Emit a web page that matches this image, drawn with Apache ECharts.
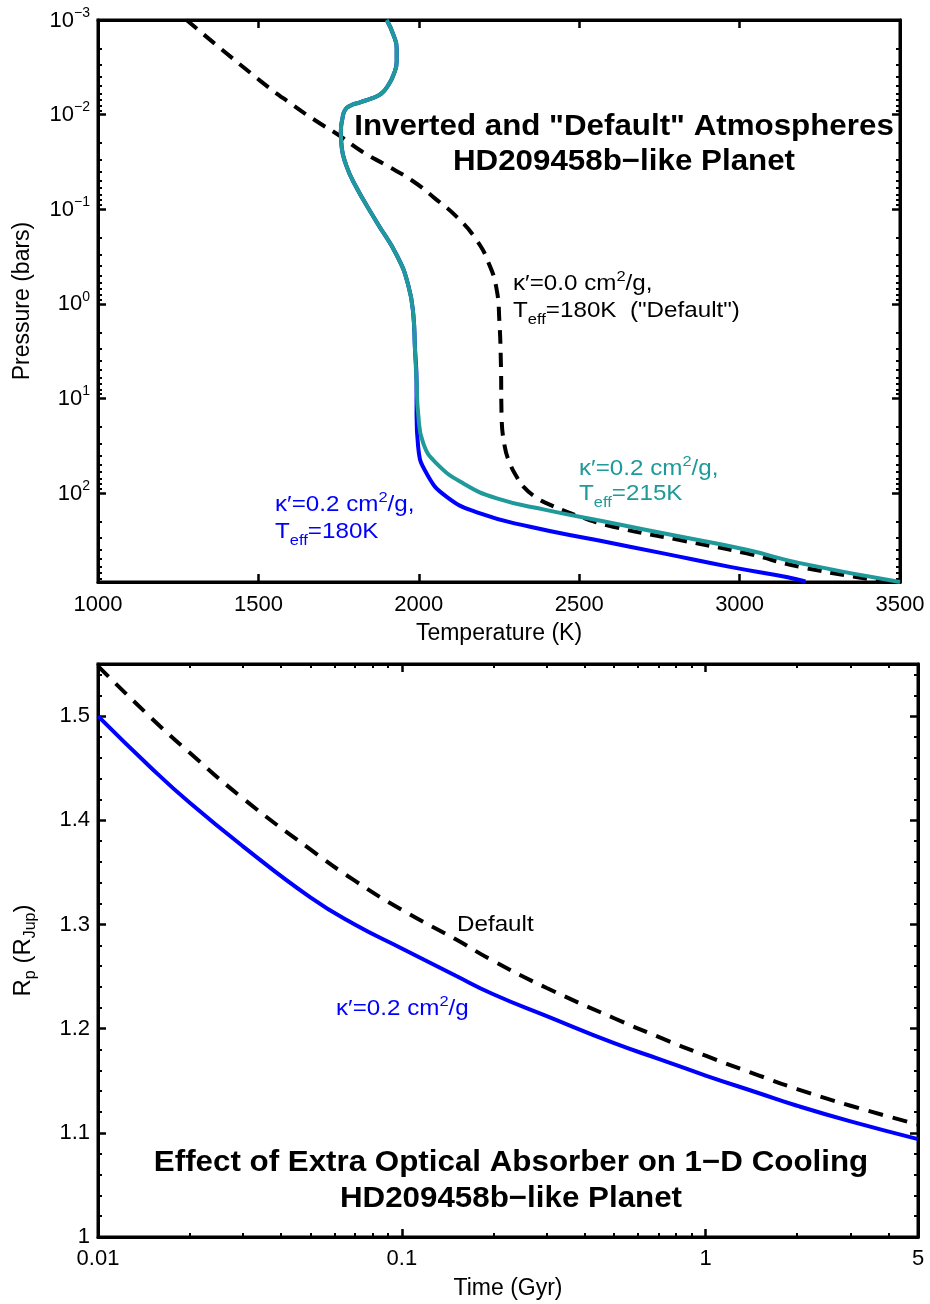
<!DOCTYPE html>
<html><head><meta charset="utf-8">
<script src="https://cdn.jsdelivr.net/npm/echarts@6/dist/echarts.min.js"></script>
<style>html,body{margin:0;padding:0;background:#fff}#c{width:930px;height:1304px}</style>
</head><body><div id="c"></div>
<script>
// ---------- Top panel data: Temperature (K) vs Pressure (bars) ----------
const tealTemp = [1900,1921,1931,1931,1921,1905,1884,1853,1817,1786,1770,1762,1757,1760,1770,1796,1868,1931,1967,1983,1988,1993,1998,2014,2055,2139,2243,2399,2606,2814,3022,3188,3500];
const tealPres = [0.001,0.00144,0.00199,0.00276,0.00381,0.00486,0.00596,0.00673,0.00741,0.00805,0.00893,0.01094,0.01514,0.0227,0.0315,0.0512,0.1355,0.3048,0.632,1.312,2.95,6.61,14.39,29.85,48.5,79.1,113.8,151.4,208.9,288.4,398,550,871];
const blueTemp = [1900,1921,1931,1931,1921,1905,1884,1853,1817,1786,1770,1762,1757,1760,1770,1796,1868,1931,1967,1983,1988,1993,1993,1998,2024,2087,2191,2347,2554,2762,2970,3150,3205];
const bluePres = [0.001,0.00144,0.00199,0.00276,0.00381,0.00486,0.00596,0.00673,0.00741,0.00805,0.00893,0.01094,0.01514,0.0227,0.0315,0.0512,0.1355,0.3048,0.632,1.312,2.95,6.61,14.96,32.4,61.7,109.6,164.1,227,314,434,603,776,861];
const dashTemp = [1276,1505,1609,1679,1750,1824,1897,1980,2050,2120,2180,2217,2243,2251,2256,2258,2268,2284,2305,2326,2362,2399,2503,2606,2814,3022,3188,3462];
const dashPres = [0.001,0.00437,0.0080,0.01161,0.01644,0.02466,0.03412,0.05,0.0767,0.1219,0.2118,0.3648,0.7145,1.483,4.436,14.96,32.36,48.53,67.3,85.7,109.4,128.5,177.8,227,314,434,603,871];
const tempTicks = [1000,1500,2000,2500,3000,3500];
const presTicks = [0.001,0.01,0.1,1,10,100];
const presMax = 871;

// ---------- Bottom panel data: Time (Gyr) vs Rp (RJup) ----------
const timeVals = [0.01,0.015,0.02,0.03,0.05,0.07,0.1,0.15,0.2,0.3,0.5,0.7,1,1.5,2,3,5];
const blueRad  = [1.500,1.450,1.417,1.375,1.326,1.300,1.277,1.251,1.233,1.212,1.186,1.171,1.155,1.138,1.126,1.111,1.094];
const dashRad  = [1.548,1.498,1.465,1.421,1.372,1.342,1.314,1.286,1.265,1.239,1.210,1.192,1.174,1.155,1.142,1.126,1.108];
const timeTicks = [0.01,0.1,1];
const timeLabels = [0.01,0.1,1,5];
const radTicks = [1,1.1,1.2,1.3,1.4,1.5];

// minor tick positions
const presMinor = [];
for (let d = -3; d <= 2; d++) for (let m = 2; m <= 9; m++) { const v = m * Math.pow(10, d); if (v <= presMax) presMinor.push(+v.toPrecision(3)); }
const timeMinor = [];
for (let d = -2; d <= 0; d++) for (let m = 2; m <= 9; m++) { const v = m * Math.pow(10, d); if (v < 5) timeMinor.push(+v.toPrecision(3)); }
const radMinor = [];
for (let i = 1; i < 28; i++) { if (i % 5 !== 0) radMinor.push(+(1 + i * 0.02).toFixed(2)); }

const F = '"Liberation Sans", Arial, Helvetica, sans-serif';
const zip = (a, b) => a.map((v, i) => [v, b[i]]);
const BLUE = '#0000FF', TEAL = '#1F9999';

const lineAx = { show: true, lineStyle: { color: '#000', width: 3 } };
const noLine = { show: false };
const majTick = (cv) => ({ show: true, inside: true, length: 8, lineStyle: { color: '#000', width: 2.5 }, ...(cv ? { customValues: cv } : {}) });
const minTick = (cv) => ({ show: true, inside: true, length: 4, lineStyle: { color: '#000', width: 2 }, customValues: cv });
const noLab = { show: false };
const noSplit = { show: false };

const supExp = (v) => { const e = Math.round(Math.log10(v)); return '{b|10}{s|' + (e < 0 ? '\u2212' + (-e) : String(e)) + '}'; };

const option = {
  animation: false,
  backgroundColor: '#fff',
  textStyle: { fontFamily: F, color: '#000' },
  grid: [
    { left: 98, top: 20, width: 802, height: 562, show: true, borderColor: '#000', borderWidth: 3, backgroundColor: 'transparent' },
    { left: 98, top: 664, width: 820, height: 573, show: true, borderColor: '#000', borderWidth: 3, backgroundColor: 'transparent' }
  ],
  xAxis: [
    { gridIndex: 0, type: 'value', position: 'bottom', min: 1000, max: 3500, interval: 500,
      axisLine: lineAx, axisTick: majTick(tempTicks), splitLine: noSplit,
      axisLabel: { customValues: tempTicks, fontSize: 22, color: '#000', fontFamily: F, margin: 12, formatter: (v) => String(v) },
      name: 'Temperature (K)', nameLocation: 'middle', nameGap: 40,
      nameTextStyle: { fontSize: 23, color: '#000', fontFamily: F } },
    { gridIndex: 0, type: 'value', position: 'top', min: 1000, max: 3500, interval: 500,
      axisLine: lineAx, axisTick: majTick(tempTicks), axisLabel: noLab, splitLine: noSplit },
    { gridIndex: 1, type: 'log', logBase: 10, position: 'bottom', min: 0.01, max: 5,
      axisLine: lineAx, axisTick: majTick(timeTicks), splitLine: noSplit, minorTick: { show: false },
      axisLabel: { customValues: timeLabels, fontSize: 22, color: '#000', fontFamily: F, margin: 11,
        formatter: (v) => String(+(+v).toPrecision(3)) },
      name: 'Time (Gyr)', nameLocation: 'middle', nameGap: 40,
      nameTextStyle: { fontSize: 23, color: '#000', fontFamily: F } },
    { gridIndex: 1, type: 'log', logBase: 10, position: 'bottom', min: 0.01, max: 5,
      axisLine: noLine, axisTick: minTick(timeMinor), axisLabel: noLab, splitLine: noSplit },
    { gridIndex: 1, type: 'log', logBase: 10, position: 'top', min: 0.01, max: 5,
      axisLine: lineAx, axisTick: majTick(timeTicks), axisLabel: noLab, splitLine: noSplit },
    { gridIndex: 1, type: 'log', logBase: 10, position: 'top', min: 0.01, max: 5,
      axisLine: noLine, axisTick: minTick(timeMinor), axisLabel: noLab, splitLine: noSplit }
  ],
  yAxis: [
    { gridIndex: 0, type: 'log', logBase: 10, inverse: true, position: 'left', min: 0.001, max: presMax,
      axisLine: lineAx, axisTick: majTick(presTicks), splitLine: noSplit, minorTick: { show: false },
      axisLabel: { customValues: presTicks, margin: 8, formatter: supExp, padding: [0, 0, 6, 0],
        rich: { b: { fontSize: 22, lineHeight: 22, padding: [7, 0, 0, 0], fontFamily: F, color: '#000' },
                s: { fontSize: 14, lineHeight: 14, verticalAlign: 'top', fontFamily: F, color: '#000' } } },
      name: 'Pressure (bars)', nameLocation: 'middle', nameGap: 64, nameRotate: 90,
      nameTextStyle: { fontSize: 23, color: '#000', fontFamily: F } },
    { gridIndex: 0, type: 'log', logBase: 10, inverse: true, position: 'left', min: 0.001, max: presMax,
      axisLine: noLine, axisTick: minTick(presMinor), axisLabel: noLab, splitLine: noSplit },
    { gridIndex: 0, type: 'log', logBase: 10, inverse: true, position: 'right', min: 0.001, max: presMax,
      axisLine: lineAx, axisTick: majTick(presTicks), axisLabel: noLab, splitLine: noSplit },
    { gridIndex: 0, type: 'log', logBase: 10, inverse: true, position: 'right', min: 0.001, max: presMax,
      axisLine: noLine, axisTick: minTick(presMinor), axisLabel: noLab, splitLine: noSplit },
    { gridIndex: 1, type: 'value', position: 'left', min: 1, max: 1.55,
      axisLine: lineAx, axisTick: majTick(radTicks), splitLine: noSplit,
      axisLabel: { customValues: radTicks, fontSize: 22, color: '#000', fontFamily: F, margin: 8,
        formatter: (v) => String(+(+v).toFixed(2)) },
      name: '{m|R}{sb|p}{m| (R}{sb|Jup}{m|)}', nameLocation: 'middle', nameGap: 62, nameRotate: 90,
      nameTextStyle: { color: '#000', fontFamily: F,
        rich: { m: { fontSize: 24, lineHeight: 25, verticalAlign: 'top', fontFamily: F, color: '#000' },
                sb: { fontSize: 16, lineHeight: 16, padding: [14, 0, 0, 0], fontFamily: F, color: '#000' } } } },
    { gridIndex: 1, type: 'value', position: 'left', min: 1, max: 1.55,
      axisLine: noLine, axisTick: minTick(radMinor), axisLabel: noLab, splitLine: noSplit },
    { gridIndex: 1, type: 'value', position: 'right', min: 1, max: 1.55,
      axisLine: lineAx, axisTick: majTick(radTicks), axisLabel: noLab, splitLine: noSplit },
    { gridIndex: 1, type: 'value', position: 'right', min: 1, max: 1.55,
      axisLine: noLine, axisTick: minTick(radMinor), axisLabel: noLab, splitLine: noSplit }
  ],
  series: [
    { type: 'line', xAxisIndex: 0, yAxisIndex: 0, data: zip(dashTemp, dashPres), symbol: 'none', smooth: 0.5,
      lineStyle: { color: '#000', width: 4, type: [14, 9] }, z: 2 },
    { type: 'line', xAxisIndex: 0, yAxisIndex: 0, data: zip(blueTemp, bluePres), symbol: 'none', smooth: 0.5,
      lineStyle: { color: BLUE, width: 4 }, z: 3 },
    { type: 'line', xAxisIndex: 0, yAxisIndex: 0, data: zip(tealTemp, tealPres), symbol: 'none', smooth: 0.5,
      lineStyle: { color: TEAL, width: 4 }, z: 4 },
    { type: 'line', xAxisIndex: 2, yAxisIndex: 4, data: zip(timeVals, dashRad), symbol: 'none', smooth: 0.5,
      lineStyle: { color: '#000', width: 4, type: [15, 10] }, z: 2 },
    { type: 'line', xAxisIndex: 2, yAxisIndex: 4, data: zip(timeVals, blueRad), symbol: 'none', smooth: 0.5,
      lineStyle: { color: BLUE, width: 4 }, z: 3 }
  ]
};

// ---------- text annotations ----------
const SX = 1.1;
const richSup = (c) => ({ m: { fontSize: 22, lineHeight: 23, padding: [7, 0, 0, 0], fontFamily: F, fill: c },
                          s: { fontSize: 15, lineHeight: 15, verticalAlign: 'top', fontFamily: F, fill: c } });
const richSub = (c) => ({ m: { fontSize: 22, lineHeight: 23, verticalAlign: 'top', fontFamily: F, fill: c },
                          s: { fontSize: 15, lineHeight: 15, padding: [16, 0, 0, 0], fontFamily: F, fill: c } });
const txt = (x, y, text, rich, c) => ({ type: 'text', x, y, scaleX: SX, z: 10,
  style: { text, rich, fill: c, align: 'left', verticalAlign: 'top', fontFamily: F } });
const title = (x, y, text) => ({ type: 'text', x, y, scaleX: 1.08, z: 10,
  style: { text, fontSize: 29, fontWeight: 'bold', fontFamily: F, fill: '#000', align: 'center', verticalAlign: 'middle' } });

option.graphic = { elements: [
  title(624, 127, 'Inverted and "Default" Atmospheres'),
  title(624, 162, 'HD209458b\u2212like Planet'),
  title(511, 1163, 'Effect of Extra Optical Absorber on 1\u2212D Cooling'),
  title(511, 1199, 'HD209458b\u2212like Planet'),
  txt(513, 269, '{m|\u03BA\u2032=0.0 cm}{s|2}{m|/g,}', richSup('#000'), '#000'),
  txt(513, 300, '{m|T}{s|eff}{m|=180K  ("Default")}', richSub('#000'), '#000'),
  txt(579, 454, '{m|\u03BA\u2032=0.2 cm}{s|2}{m|/g,}', richSup(TEAL), TEAL),
  txt(579, 483, '{m|T}{s|eff}{m|=215K}', richSub(TEAL), TEAL),
  txt(275, 490, '{m|\u03BA\u2032=0.2 cm}{s|2}{m|/g,}', richSup(BLUE), BLUE),
  txt(275, 521, '{m|T}{s|eff}{m|=180K}', richSub(BLUE), BLUE),
  txt(336, 994, '{m|\u03BA\u2032=0.2 cm}{s|2}{m|/g}', richSup(BLUE), BLUE),
  { type: 'text', x: 457, y: 925, scaleX: SX, z: 10,
    style: { text: 'Default', fontSize: 22, fontFamily: F, fill: '#000', align: 'left', verticalAlign: 'middle' } }
] };

const chart = echarts.init(document.getElementById('c'), null, { renderer: 'canvas' });
chart.setOption(option);
</script>
</body></html>
